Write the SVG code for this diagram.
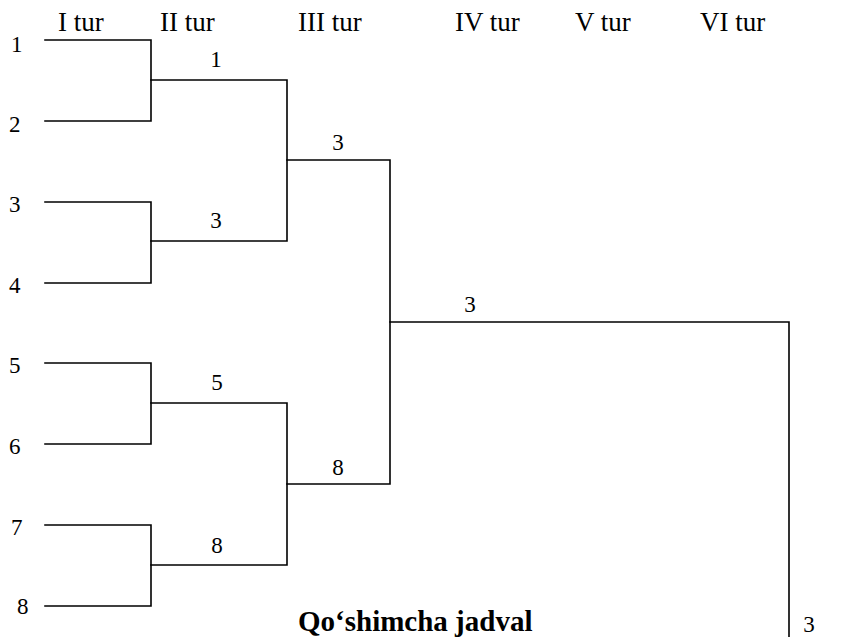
<svg xmlns="http://www.w3.org/2000/svg" width="847" height="637" viewBox="0 0 847 637" font-family="'Liberation Serif', 'Times New Roman', 'DejaVu Serif', serif">
  <style>
    .bg { fill: #ffffff; }
    .ln { fill: none; stroke: #000; stroke-width: 1.6; stroke-linecap: square; }
    text { font-family: 'Liberation Serif', 'Times New Roman', 'DejaVu Serif', serif; fill: #000; }
    .hd { font-size: 27px; }
    .num { font-size: 23px; }
    .lbl { font-size: 23px; text-anchor: middle; }
    .ttl { font-size: 29px; font-weight: bold; }
  </style>
  <rect class="bg" x="0" y="0" width="847" height="637"/>

  <g id="headers">
    <text class="hd" x="58" y="31">I tur</text>
    <text class="hd" x="160" y="31">II tur</text>
    <text class="hd" x="298" y="31">III tur</text>
    <text class="hd" x="455" y="31">IV tur</text>
    <text class="hd" x="575" y="31">V tur</text>
    <text class="hd" x="700" y="31">VI tur</text>
  </g>

  <g id="connectors">
    <path class="ln" d="M45,40 H151 V121 H45"/>
    <path class="ln" d="M45,202 H151 V283 H45"/>
    <path class="ln" d="M45,363 H151 V444 H45"/>
    <path class="ln" d="M45,525 H151 V606 H45"/>
    <path class="ln" d="M151,80 H287 V241 H151"/>
    <path class="ln" d="M151,403 H287 V565 H151"/>
    <path class="ln" d="M287,160 H390 V484 H287"/>
    <path class="ln" d="M390,322 H789 V640"/>
  </g>

  <g id="p1"><text class="num" x="11" y="52">1</text></g>
  <g id="p2"><text class="num" x="9" y="132">2</text></g>
  <g id="p3"><text class="num" x="9" y="212">3</text></g>
  <g id="p4"><text class="num" x="9" y="293">4</text></g>
  <g id="p5"><text class="num" x="9" y="373">5</text></g>
  <g id="p6"><text class="num" x="9" y="454">6</text></g>
  <g id="p7"><text class="num" x="11" y="535">7</text></g>
  <g id="p8"><text class="num" x="17" y="614">8</text></g>

  <g id="r2a"><text class="lbl" x="216" y="67">1</text></g>
  <g id="r2b"><text class="lbl" x="216" y="228">3</text></g>
  <g id="r2c"><text class="lbl" x="217" y="390">5</text></g>
  <g id="r2d"><text class="lbl" x="217" y="553">8</text></g>
  <g id="r3a"><text class="lbl" x="338" y="150">3</text></g>
  <g id="r3b"><text class="lbl" x="338" y="475">8</text></g>
  <g id="r4"><text class="lbl" x="470" y="312">3</text></g>
  <g id="final"><text class="lbl" x="809" y="632">3</text></g>

  <g id="title"><text class="ttl" x="298" y="631">Qo‘shimcha jadval</text></g>
</svg>
